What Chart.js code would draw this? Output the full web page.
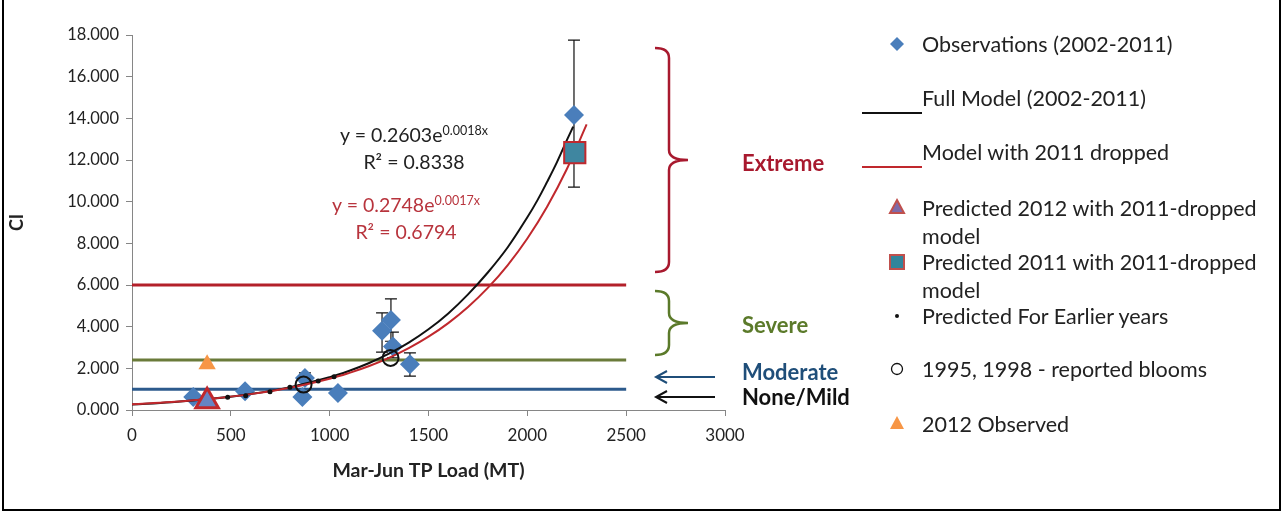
<!DOCTYPE html>
<html><head><meta charset="utf-8">
<script src="https://cdn.jsdelivr.net/npm/chart.js@4.4.0/dist/chart.umd.min.js"></script>
<style>
body{margin:0;background:#fff;width:1283px;height:513px;overflow:hidden;position:relative;font-family:Lato,"Open Sans",sans-serif;}
#frame{position:absolute;left:2px;top:-3px;width:1279px;height:514px;border:2px solid #000;box-sizing:border-box;pointer-events:none}
canvas{position:absolute;left:0;top:0}
.t{position:absolute;white-space:nowrap;color:#222;line-height:24px}
.lg{font-size:21.5px}
.eq{font-size:19.5px;transform:translateX(-50%)}
.eq sup{font-size:12.5px;vertical-align:7px;line-height:0}
.lab{font-size:22px;font-weight:bold}
</style></head>
<body>
<canvas id="c" width="1283" height="513"></canvas>
<div id="frame"></div>

<div class="t eq" style="left:414px;top:123px">y = 0.2603e<sup>0.0018x</sup></div>
<div class="t eq" style="left:414px;top:150px">R² = 0.8338</div>
<div class="t eq" style="left:406px;top:193px;color:#b8343d">y = 0.2748e<sup>0.0017x</sup></div>
<div class="t eq" style="left:406px;top:220px;color:#b8343d">R² = 0.6794</div>

<div class="t lab" style="left:742px;top:151px;color:#a8192e">Extreme</div>
<div class="t lab" style="left:742px;top:313px;color:#5b7a2a">Severe</div>
<div class="t lab" style="left:742px;top:360px;color:#1f4e79">Moderate</div>
<div class="t lab" style="left:742px;top:385px;color:#111">None/Mild</div>

<div class="t lg" style="left:922px;top:32px">Observations (2002-2011)</div>
<div class="t lg" style="left:922px;top:86px">Full Model (2002-2011)</div>
<div class="t lg" style="left:922px;top:140px">Model with 2011 dropped</div>
<div class="t lg" style="left:922px;top:196px">Predicted 2012 with 2011-dropped</div>
<div class="t lg" style="left:922px;top:224px">model</div>
<div class="t lg" style="left:922px;top:250px">Predicted 2011 with 2011-dropped</div>
<div class="t lg" style="left:922px;top:278px">model</div>
<div class="t lg" style="left:922px;top:304px">Predicted For Earlier years</div>
<div class="t lg" style="left:922px;top:357px">1995, 1998 - reported blooms</div>
<div class="t lg" style="left:922px;top:412px">2012 Observed</div>

<script>
// ---- data ----
const obsX   = [310, 572, 862, 875, 1042, 1265, 1310, 1320, 1406, 2236];
const obsY   = [0.62, 0.90, 0.62, 1.54, 0.82, 3.80, 4.32, 3.05, 2.20, 14.16];
const errLow = [null, null, null, 1.35, null, 2.78, 3.30, 2.50, 1.63, 10.70];
const errHigh= [null, null, null, 1.78, null, 4.66, 5.33, 3.74, 2.74, 17.75];

const earlierX = [484, 575, 698, 799, 942, 1022];
const earlierY = [0.61, 0.69, 0.88, 1.09, 1.39, 1.60];

const bloomX = [868, 1308];
const bloomY = [1.22, 2.50];

const pred2011X = [2240], pred2011Y = [12.35];
const pred2012X = [380],  pred2012Y = [0.42];
const obs2012X  = [380],  obs2012Y  = [2.20];

const fullModelX = [0, 200, 400, 600, 800, 1000, 1100, 1200, 1300, 1400, 1500, 1600, 1700, 1800, 1900, 2000, 2050, 2100, 2150, 2200, 2232];
const fullModelY = [0.26, 0.373, 0.535, 0.767, 1.099, 1.575, 1.885, 2.257, 2.702, 3.235, 3.873, 4.637, 5.55, 6.60, 7.80, 9.25, 10.05, 10.95, 11.90, 12.95, 13.60];

const dropModelX = [0, 200, 400, 600, 800, 1000, 1100, 1200, 1300, 1400, 1500, 1600, 1700, 1800, 1900, 2000, 2100, 2200, 2300];
const dropModelY = [0.275, 0.386, 0.542, 0.762, 1.071, 1.504, 1.783, 2.113, 2.505, 2.969, 3.519, 4.172, 4.944, 5.861, 6.947, 8.234, 9.76, 11.57, 13.71];

const thresholdX = [0, 2500];
const extremeLevel = 6.0, severeLevel = 2.4, moderateLevel = 1.0;

const yTickStep = 2, xTickStep = 500;

const pts = (xs, ys) => xs.map((x, i) => ({x, y: ys[i]}));
const hline = v => thresholdX.map(x => ({x, y: v}));

const C_BLUE = '#4a7ebb', C_RED = '#c0282d';

const extras = {
  id: 'extras',
  beforeDatasetsDraw(chart) {
    const ctx = chart.ctx, xs = chart.scales.x, ys = chart.scales.y;
    ctx.save();
    ctx.strokeStyle = '#111'; ctx.lineWidth = 1.2;
    obsX.forEach((x, i) => {
      if (errLow[i] == null) return;
      const px = xs.getPixelForValue(x);
      const y1 = ys.getPixelForValue(errLow[i]), y2 = ys.getPixelForValue(errHigh[i]);
      ctx.beginPath();
      ctx.moveTo(px, y1); ctx.lineTo(px, y2);
      ctx.moveTo(px - 6, y1); ctx.lineTo(px + 6, y1);
      ctx.moveTo(px - 6, y2); ctx.lineTo(px + 6, y2);
      ctx.stroke();
    });
    ctx.restore();
  },
  afterDraw(chart) {
    const ctx = chart.ctx;
    ctx.save();
    function brace(top, bot, color) {
      const x0 = 655, xs = 669, tip = 688, r = 10, mid = (top + bot) / 2;
      ctx.strokeStyle = color; ctx.lineWidth = 2.5;
      ctx.beginPath();
      ctx.moveTo(x0, top);
      ctx.quadraticCurveTo(xs, top, xs, top + r);
      ctx.lineTo(xs, mid - r);
      ctx.quadraticCurveTo(xs, mid, tip, mid);
      ctx.quadraticCurveTo(xs, mid, xs, mid + r);
      ctx.lineTo(xs, bot - r);
      ctx.quadraticCurveTo(xs, bot, x0, bot);
      ctx.stroke();
    }
    brace(48, 272, '#a8192e');
    brace(291, 355, '#5b7a2a');
    function arrow(y, color) {
      ctx.strokeStyle = color; ctx.lineWidth = 2;
      ctx.beginPath();
      ctx.moveTo(715, y); ctx.lineTo(656, y);
      ctx.moveTo(667, y - 6); ctx.lineTo(656, y); ctx.lineTo(667, y + 6);
      ctx.stroke();
    }
    arrow(377, '#1f4e79');
    arrow(397, '#111');
    // legend markers
    ctx.fillStyle = C_BLUE;
    ctx.beginPath(); ctx.moveTo(897, 37); ctx.lineTo(904, 44); ctx.lineTo(897, 51); ctx.lineTo(890, 44); ctx.closePath(); ctx.fill();
    ctx.lineWidth = 2; ctx.strokeStyle = '#111';
    ctx.beginPath(); ctx.moveTo(862, 113); ctx.lineTo(922, 113); ctx.stroke();
    ctx.strokeStyle = C_RED;
    ctx.beginPath(); ctx.moveTo(862, 167); ctx.lineTo(922, 167); ctx.stroke();
    ctx.fillStyle = '#7f6aa8'; ctx.strokeStyle = '#c0504d'; ctx.lineWidth = 2;
    ctx.beginPath(); ctx.moveTo(897, 200); ctx.lineTo(904, 213); ctx.lineTo(890, 213); ctx.closePath(); ctx.fill(); ctx.stroke();
    ctx.fillStyle = '#31859c';
    ctx.beginPath(); ctx.rect(890, 255, 14, 14); ctx.fill(); ctx.stroke();
    ctx.fillStyle = '#111';
    ctx.beginPath(); ctx.arc(897, 316, 2, 0, Math.PI * 2); ctx.fill();
    ctx.strokeStyle = '#111'; ctx.lineWidth = 1.3;
    ctx.beginPath(); ctx.arc(897, 369, 5.5, 0, Math.PI * 2); ctx.stroke();
    ctx.fillStyle = '#f79646';
    ctx.beginPath(); ctx.moveTo(897, 416); ctx.lineTo(904, 429); ctx.lineTo(890, 429); ctx.closePath(); ctx.fill();
    ctx.restore();
  }
};

new Chart(document.getElementById('c'), {
  type: 'scatter',
  data: {
    datasets: [
      {label: 'Predicted 2012 with 2011-dropped model', data: pts(pred2012X, pred2012Y), pointStyle: 'triangle', radius: 13, backgroundColor: '#6684c4', borderColor: '#c0282d', borderWidth: 3, order: 0},
      {label: '2012 Observed', data: pts(obs2012X, obs2012Y), pointStyle: 'triangle', radius: 10, backgroundColor: '#f79646', borderColor: '#f79646', borderWidth: 0, order: 1},
      {label: 'Predicted 2011 with 2011-dropped model', data: pts(pred2011X, pred2011Y), pointStyle: 'rect', radius: 15, backgroundColor: '#3f86a0', borderColor: '#c0282d', borderWidth: 2, order: 1},
      {label: '1995, 1998 - reported blooms', data: pts(bloomX, bloomY), pointStyle: 'circle', radius: 8, backgroundColor: 'rgba(0,0,0,0)', borderColor: '#111', borderWidth: 2, order: 2},
      {label: 'Predicted For Earlier years', data: pts(earlierX, earlierY), pointStyle: 'circle', radius: 2.5, backgroundColor: '#111', borderColor: '#111', borderWidth: 0, order: 2},
      {label: 'Model with 2011 dropped', type: 'line', data: pts(dropModelX, dropModelY), borderColor: C_RED, borderWidth: 2, pointRadius: 0, tension: 0.4, fill: false, order: 4},
      {label: 'Full Model (2002-2011)', type: 'line', data: pts(fullModelX, fullModelY), borderColor: '#111', borderWidth: 2, pointRadius: 0, tension: 0.4, fill: false, order: 5},
      {label: 'Observations (2002-2011)', data: pts(obsX, obsY), pointStyle: 'rectRot', radius: 10, backgroundColor: C_BLUE, borderColor: C_BLUE, borderWidth: 0, order: 6},
      {label: 'Extreme', type: 'line', data: hline(extremeLevel), borderColor: '#b3202a', borderWidth: 3, pointRadius: 0, order: 10},
      {label: 'Severe', type: 'line', data: hline(severeLevel), borderColor: '#6a7b3a', borderWidth: 3, pointRadius: 0, order: 10},
      {label: 'Moderate', type: 'line', data: hline(moderateLevel), borderColor: '#2c5a8c', borderWidth: 3, pointRadius: 0, order: 10}
    ]
  },
  options: {
    responsive: false, animation: false, devicePixelRatio: 1,
    layout: {padding: {left: 0, top: 35, right: 558, bottom: 31}},
    plugins: {legend: {display: false}, tooltip: {enabled: false}},
    scales: {
      x: {
        type: 'linear', min: 0, max: 3000,
        ticks: {stepSize: xTickStep, color: '#222', font: {family: 'Lato', size: 17}, padding: 9, maxRotation: 0, callback: v => String(v)},
        grid: {drawOnChartArea: false, tickLength: 6, color: '#868686'},
        border: {color: '#868686'},
        title: {display: true, text: 'Mar-Jun TP Load (MT)', color: '#222', font: {family: 'Lato', size: 19.5, weight: 'bold'}, padding: 0},
        afterFit(s) { s.height = 72; }
      },
      y: {
        min: 0, max: 18,
        ticks: {stepSize: yTickStep, color: '#222', font: {family: 'Lato', size: 16.5}, padding: 7, callback: v => v.toFixed(3)},
        grid: {drawOnChartArea: false, tickLength: 6, color: '#868686'},
        border: {color: '#868686'},
        title: {display: true, text: 'CI', color: '#222', font: {family: 'Lato', size: 18, weight: 'bold'}, padding: {top: 6, bottom: 0}},
        afterFit(s) { s.width = 132; }
      }
    }
  },
  plugins: [extras]
});
</script>
</body></html>
